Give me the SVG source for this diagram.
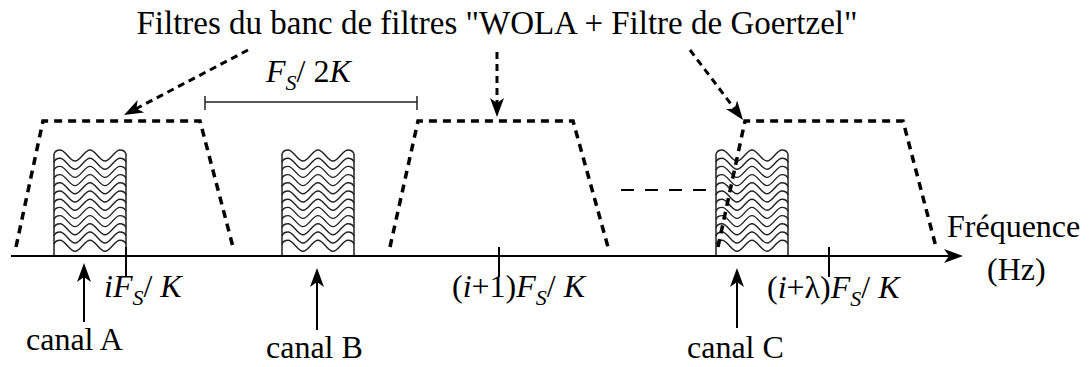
<svg xmlns="http://www.w3.org/2000/svg" xmlns:xlink="http://www.w3.org/1999/xlink" width="1091" height="367" viewBox="0 0 1091 367">
<style>
text{font-family:'Liberation Serif','Tinos','DejaVu Serif',serif;font-size:32px;fill:#000}
.it{font-style:italic}
.sub{font-style:italic;font-size:22px}
.wave{fill:none;stroke:#222;stroke-width:1.4}
.edge{stroke:#222;stroke-width:1.5;fill:none}
.filt{fill:none;stroke:#000;stroke-width:3.5;stroke-dasharray:8 6}
.ptr{fill:none;stroke:#000;stroke-width:3;stroke-dasharray:7 5;marker-end:url(#ah)}
.solid{fill:none;stroke:#000;stroke-width:2}
</style>
<defs>
<marker id="ah" viewBox="-10 -9 24 18" refX="0" refY="0" markerWidth="24" markerHeight="18" markerUnits="userSpaceOnUse" orient="auto">
<path d="M11,0 L-8,-7 L-3,0 L-8,7 Z" fill="#000"/>
</marker>
<path id="w" class="wave" d="M0,-1.5 C1,-4.5 3.5,-5.5 6,-5.5 C11.5,-5.5 15.5,5.5 21,5.5 C26.5,5.5 30.5,-5.5 36,-5.5 C41.5,-5.5 45.5,5.5 51,5.5 C56.5,5.5 60.5,-5.5 66,-5.5 C68.5,-5.5 71,-4.5 72,-1.5"/>
<g id="blk">
<use xlink:href="#w" y="0"/><use xlink:href="#w" y="8.2"/><use xlink:href="#w" y="16.4"/><use xlink:href="#w" y="24.6"/>
<use xlink:href="#w" y="32.8"/><use xlink:href="#w" y="41"/><use xlink:href="#w" y="49.2"/><use xlink:href="#w" y="57.4"/>
<use xlink:href="#w" y="65.6"/><use xlink:href="#w" y="73.8"/><use xlink:href="#w" y="82"/><use xlink:href="#w" y="90.2"/>
<path class="edge" d="M0,-1.5 V101 M72,-1.5 V101"/>
</g>
</defs>
<rect width="1091" height="367" fill="#fff"/>

<g id="title"><text x="497" y="34" text-anchor="middle" style="font-size:33px">Filtres du banc de filtres "WOLA + Filtre de Goertzel"</text></g>

<g id="canalA-signal"><use xlink:href="#blk" x="54" y="155.5"/></g>
<g id="canalB-signal"><use xlink:href="#blk" x="282" y="155.5"/></g>
<g id="canalC-signal"><use xlink:href="#blk" x="716" y="155.5"/></g>

<g id="filter1"><polyline class="filt" points="16,247 43,121 200,121 233,247"/></g>
<g id="filter2"><polyline class="filt" points="390,247 418,121 573,121 608,247"/></g>
<g id="filter3"><polyline class="filt" points="718,247 745,121 903,121 936,247"/></g>
<g id="ellipsis"><line x1="621" y1="190" x2="707" y2="190" stroke="#000" stroke-width="1.8" stroke-dasharray="13 11"/></g>

<g id="bandwidth">
<path class="edge" d="M205,102 H417 M205,96 V110 M417,96 V110" stroke="#000"/>
<text x="266" y="82"><tspan class="it">F</tspan><tspan class="sub" dy="8">S</tspan><tspan dy="-8">/ 2</tspan><tspan class="it">K</tspan></text>
</g>

<g id="axis">
<line class="solid" x1="11" y1="256" x2="952" y2="256" marker-end="url(#ah)"/>
<text x="947" y="237">Fréquence</text>
<text x="987" y="280">(Hz)</text>
</g>

<g id="ticks">
<line class="solid" x1="126" y1="247" x2="126" y2="277"/>
<line class="solid" x1="499" y1="247" x2="499" y2="277"/>
<line class="solid" x1="829" y1="247" x2="829" y2="277"/>
<text x="104" y="297"><tspan class="it">iF</tspan><tspan class="sub" dy="8">S</tspan><tspan dy="-8">/ </tspan><tspan class="it">K</tspan></text>
<text x="452" y="297">(<tspan class="it">i</tspan>+1)<tspan class="it">F</tspan><tspan class="sub" dy="8">S</tspan><tspan dy="-8">/ </tspan><tspan class="it">K</tspan></text>
<text x="767" y="298">(<tspan class="it">i</tspan>+λ)<tspan class="it">F</tspan><tspan class="sub" dy="8">S</tspan><tspan dy="-8">/ </tspan><tspan class="it">K</tspan></text>
</g>

<g id="connectors">
<line class="ptr" x1="248" y1="50" x2="133.8" y2="109.9"/>
<line class="ptr" x1="497" y1="52" x2="497" y2="106"/>
<line class="ptr" x1="690" y1="50" x2="736.4" y2="111.2"/>
<line class="solid" x1="84" y1="322" x2="84" y2="274" marker-end="url(#ah)"/>
<line class="solid" x1="317" y1="330" x2="317" y2="279" marker-end="url(#ah)"/>
<line class="solid" x1="737" y1="328" x2="737" y2="279" marker-end="url(#ah)"/>
</g>

<g id="labels">
<text x="26" y="350">canal A</text>
<text x="266" y="358">canal B</text>
<text x="687" y="358">canal C</text>
</g>
</svg>
